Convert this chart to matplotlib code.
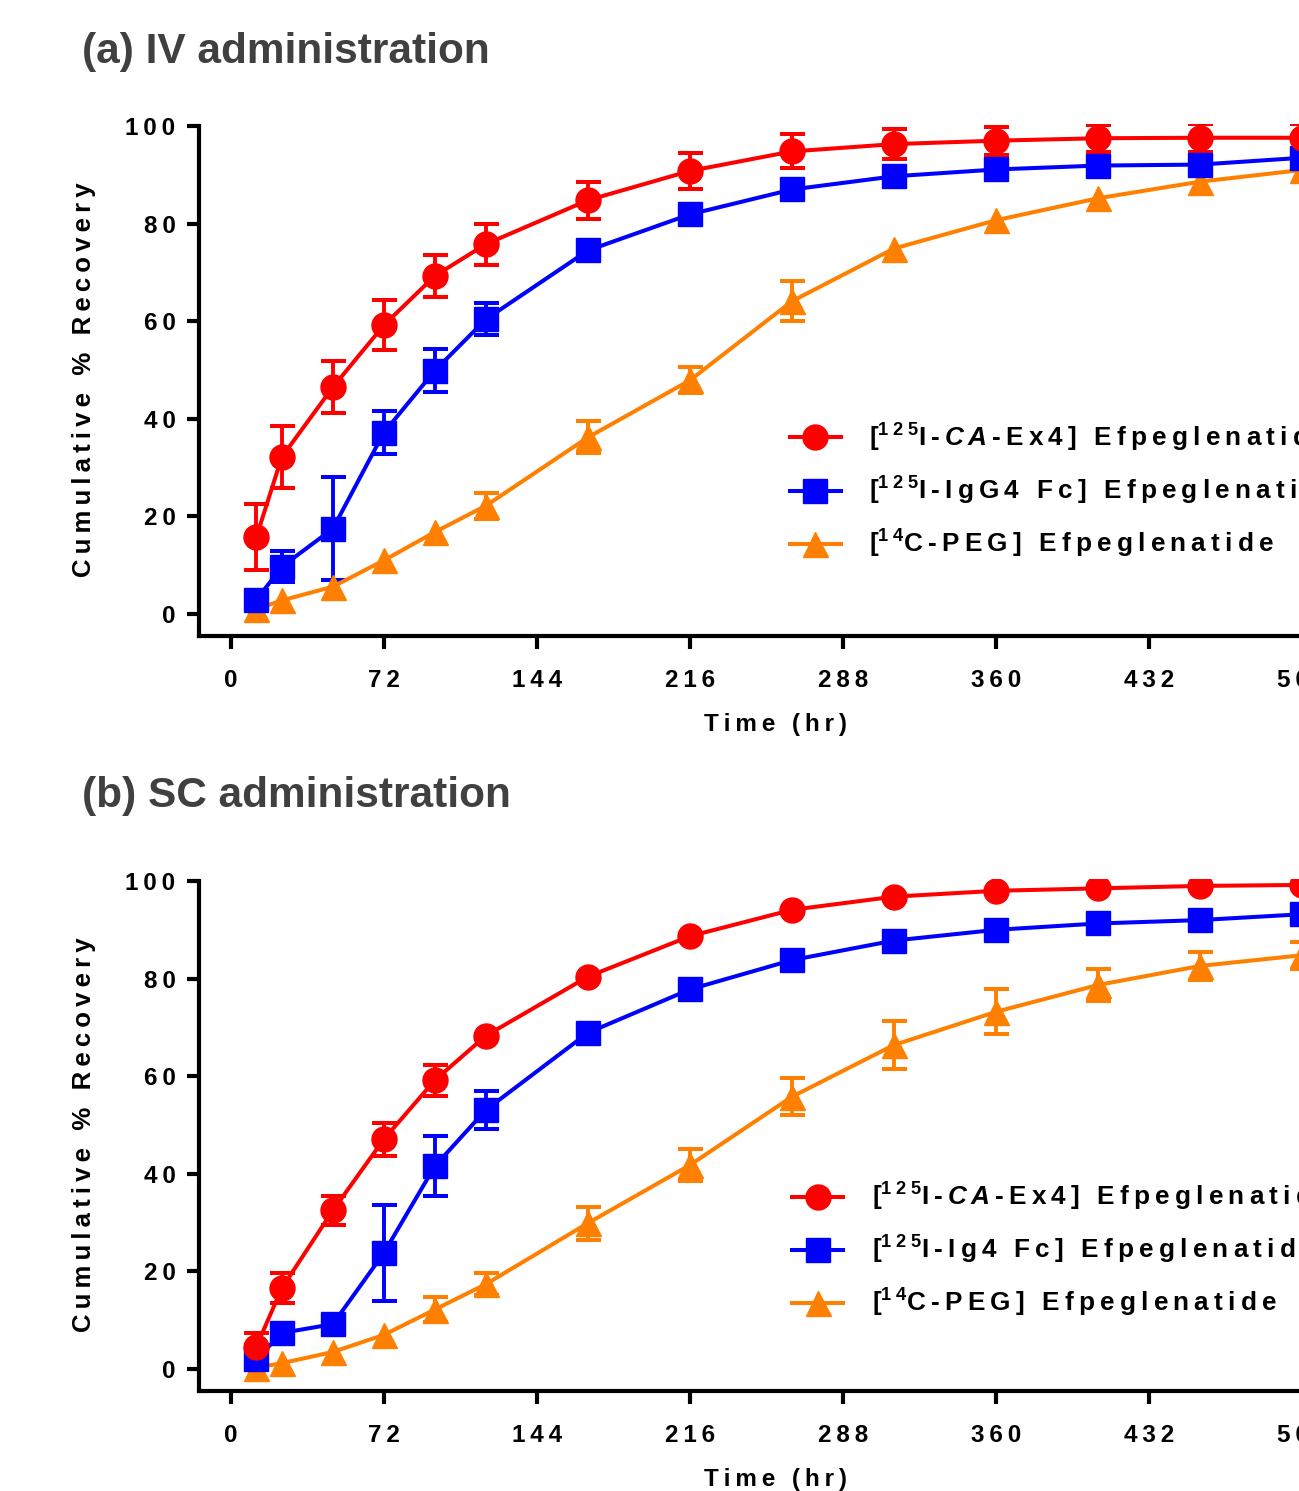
import numpy as np
import matplotlib.pyplot as plt

plt.rcParams['font.family'] = ['Liberation Sans', 'DejaVu Sans']
plt.rcParams['font.weight'] = 'bold'
plt.rcParams['mathtext.fontset'] = 'custom'
plt.rcParams['mathtext.rm'] = 'Liberation Sans:bold'
plt.rcParams['mathtext.it'] = 'Liberation Sans:italic:bold'
plt.rcParams['mathtext.bf'] = 'Liberation Sans:bold'

nan = np.nan

hours = [12, 24, 48, 72, 96, 120, 168, 216, 264, 312, 360, 408, 456, 504]
xticks = [0, 72, 144, 216, 288, 360, 432, 504]
yticks = [0, 20, 40, 60, 80, 100]

# (a) IV administration
iv_ca = [15.8, 32.2, 46.5, 59.2, 69.3, 75.8, 84.8, 90.8, 94.8, 96.3, 97.0, 97.5, 97.6, 97.6]
iv_ca_err = [6.7, 6.3, 5.3, 5.1, 4.3, 4.2, 3.8, 3.7, 3.5, 3.0, 2.9, 2.8, 2.9, 2.9]
iv_fc = [2.9, 9.7, 17.5, 37.2, 49.9, 60.4, 74.5, 81.9, 87.0, 89.7, 91.1, 91.9, 92.1, 93.5]
iv_fc_err = [nan, 3.2, 10.5, 4.4, 4.4, 3.3, nan, nan, nan, nan, nan, nan, nan, nan]
iv_peg = [1.0, 2.8, 5.6, 11.0, 16.8, 22.2, 36.2, 47.9, 64.1, 74.9, 80.7, 85.2, 88.6, 91.0]
iv_peg_err = [nan, nan, nan, nan, nan, 2.7, 3.3, 2.7, 4.1, nan, nan, nan, nan, nan]

# (b) SC administration
sc_ca = [4.6, 16.6, 32.5, 47.1, 59.2, 68.3, 80.4, 88.7, 94.1, 96.8, 98.0, 98.5, 99.0, 99.2]
sc_ca_err = [2.8, 3.1, 3.0, 3.4, 3.2, nan, nan, nan, nan, nan, nan, nan, nan, nan]
sc_fc = [2.0, 7.4, 9.2, 23.8, 41.6, 53.1, 68.9, 77.8, 83.8, 87.8, 90.0, 91.3, 92.0, 93.2]
sc_fc_err = [nan, nan, nan, 9.8, 6.2, 3.9, nan, nan, nan, nan, nan, nan, nan, nan]
sc_peg = [0.3, 1.2, 3.5, 7.0, 12.2, 17.4, 29.9, 41.8, 55.8, 66.4, 73.2, 78.7, 82.6, 84.8]
sc_peg_err = [nan, nan, nan, nan, 2.6, 2.3, 3.4, 3.2, 3.8, 5.0, 4.6, 3.2, 2.9, 2.8]

TS = '\u2009'


def spaced(s):
    return TS.join(s)


sup125 = r'$^{1\;2\;5}$'
sup14 = r'$^{1\;4}$'
ca_label = '[' + sup125 + spaced('I-') + TS + r'$\mathit{C\,A}$' + TS + spaced('-Ex4] Efpeglenatide')
iv_fc_label = '[' + sup125 + spaced('I-IgG4 Fc] Efpeglenatide')
sc_fc_label = '[' + sup125 + spaced('I-Ig4 Fc] Efpeglenatide')
peg_label = '[' + sup14 + spaced('C-PEG] Efpeglenatide')

RED = '#ff0000'
BLUE = '#0000ff'
ORANGE = '#ff8000'


def draw_panel(ax, ca, ca_err, fc, fc_err, peg, peg_err, fc_label, leg_x, leg_y):
    handles = {}
    for key, y, err, color, marker, ms in [('peg', peg, peg_err, ORANGE, '^', 18),
                                           ('fc', fc, fc_err, BLUE, 's', 17),
                                           ('ca', ca, ca_err, RED, 'o', 18)]:
        h = ax.errorbar(hours, y, yerr=err, color=color, marker=marker, markersize=ms,
                        linewidth=2.9, elinewidth=2.8, capsize=9, capthick=2.9)
        handles[key] = h[0]
    ax.set_xlim(-15, 528)
    ax.set_ylim(-4.5, 100.5)
    ax.set_xticks(xticks)
    ax.set_xticklabels([spaced(str(t)) for t in xticks])
    ax.set_yticks(yticks)
    ax.set_yticklabels([spaced(str(t)) for t in yticks])
    ax.spines['top'].set_visible(False)
    ax.spines['right'].set_visible(False)
    ax.spines['left'].set_linewidth(3)
    ax.spines['bottom'].set_linewidth(3)
    ax.spines['left'].set_bounds(-4.5, 100)
    ax.tick_params(axis='both', width=3, length=9, labelsize=17.5)
    ax.tick_params(axis='x', pad=15)
    ax.tick_params(axis='y', pad=8)
    ax.set_ylabel(spaced('Cumulative % Recovery'), fontsize=18.5, fontweight='bold')
    ax.yaxis.set_label_coords(-0.089, 0.5)
    ax.set_xlabel(spaced('Time (hr)'), fontsize=17.5, fontweight='bold')
    ax.xaxis.set_label_coords(0.5, -0.15)
    ax.legend([handles['ca'], handles['fc'], handles['peg']], [ca_label, fc_label, peg_label],
              loc='center left', bbox_to_anchor=(leg_x, leg_y), frameon=False,
              fontsize=18.8, handlelength=1.95, handletextpad=1.1, labelspacing=0.8,
              borderpad=0, borderaxespad=0)


fig = plt.figure(figsize=(12.99, 14.91), dpi=100)
W, H = 1299.0, 1491.0
ax_a = fig.add_axes([199 / W, (H - 636) / H, 1154 / W, 512.4 / H])
ax_b = fig.add_axes([199 / W, (H - 1391) / H, 1154 / W, 512.4 / H])

draw_panel(ax_a, iv_ca, iv_ca_err, iv_fc, iv_fc_err, iv_peg, iv_peg_err, iv_fc_label, 0.512, 0.283)
draw_panel(ax_b, sc_ca, sc_ca_err, sc_fc, sc_fc_err, sc_peg, sc_peg_err, sc_fc_label, 0.514, 0.275)

fig.text(82 / W, 1 - 63 / H, '(a) IV administration', fontsize=30.5, fontweight='bold',
         color='#404040', va='baseline', ha='left')
fig.text(82 / W, 1 - 807 / H, '(b) SC administration', fontsize=30.5, fontweight='bold',
         color='#404040', va='baseline', ha='left')

fig.savefig('out.png', dpi=100)
